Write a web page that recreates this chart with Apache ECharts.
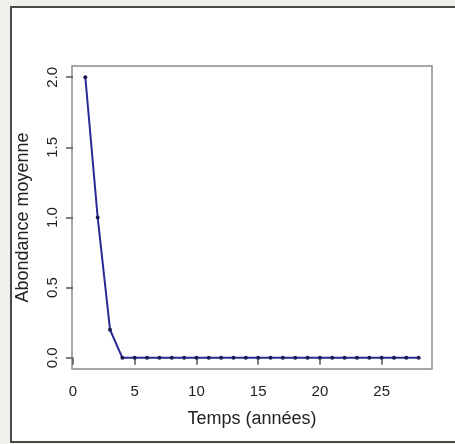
<!DOCTYPE html>
<html>
<head>
<meta charset="utf-8">
<script src="https://cdn.jsdelivr.net/npm/echarts@6/dist/echarts.min.js"></script>
<style>
  html, body { margin: 0; padding: 0; background: #eef0ea; }
  #chart { width: 455px; height: 444px; }
</style>
</head>
<body>
<div id="chart"></div>
<script>
// Mean abundance per year of simulation
const years = [1, 2, 3, 4, 5, 6, 7, 8, 9, 10, 11, 12, 13, 14, 15, 16, 17, 18, 19, 20, 21, 22, 23, 24, 25, 26, 27, 28];
const abundance = [2.0, 1.0, 0.2, 0, 0, 0, 0, 0, 0, 0, 0, 0, 0, 0, 0, 0, 0, 0, 0, 0, 0, 0, 0, 0, 0, 0, 0, 0];
const xTicks = [0, 5, 10, 15, 20, 25];
const yTicks = [0.0, 0.5, 1.0, 1.5, 2.0];

const points = years.map((x, i) => [x, abundance[i]]);

// Padded axis ranges (4% on each side of the data range)
const xPad = (years[years.length - 1] - years[0]) * 0.04;
const yPad = (Math.max(...abundance) - Math.min(...abundance)) * 0.04;

const chart = echarts.init(document.getElementById('chart'), null, { renderer: 'canvas' });
const font = 'Liberation Sans, Arial, Helvetica, sans-serif';

chart.setOption({
  animation: false,
  backgroundColor: 'transparent',
  graphic: [{
    type: 'rect',
    z: -10,
    silent: true,
    shape: { x: 11, y: 7, width: 460, height: 435 },
    style: { fill: '#ffffff', stroke: '#4a4a4a', lineWidth: 2 }
  }],
  grid: {
    left: 72, top: 66, width: 360, height: 303,
    show: true, borderColor: '#8c8c8c', borderWidth: 1.5, backgroundColor: 'transparent'
  },
  xAxis: {
    type: 'value',
    min: years[0] - xPad,
    max: years[years.length - 1] + xPad,
    name: 'Temps (années)',
    nameLocation: 'middle',
    nameGap: 41,
    nameTextStyle: { fontFamily: font, fontSize: 18, color: '#222' },
    axisLine: { show: false },
    splitLine: { show: false },
    axisTick: { show: true, inside: false, length: 7, customValues: xTicks, lineStyle: { color: '#555', width: 1.5 } },
    axisLabel: { customValues: xTicks, margin: 15, fontFamily: font, fontSize: 15, color: '#222',
      formatter: v => String(v) }
  },
  yAxis: {
    type: 'value',
    min: 0 - yPad,
    max: Math.max(...abundance) + yPad,
    name: 'Abondance moyenne',
    nameLocation: 'middle',
    nameRotate: 90,
    nameGap: 40,
    nameTextStyle: { fontFamily: font, fontSize: 18, color: '#222' },
    axisLine: { show: false },
    splitLine: { show: false },
    axisTick: { show: true, inside: false, length: 7, customValues: yTicks, lineStyle: { color: '#555', width: 1.5 } },
    axisLabel: { customValues: yTicks, rotate: 90, margin: 12, fontFamily: font, fontSize: 15, color: '#222',
      formatter: v => v.toFixed(1) }
  },
  series: [{
    type: 'line',
    data: points,
    symbol: 'circle',
    symbolSize: 4,
    showSymbol: true,
    lineStyle: { color: '#2a2a96', width: 2 },
    itemStyle: { color: '#1c1c50' }
  }]
});
</script>
</body>
</html>
